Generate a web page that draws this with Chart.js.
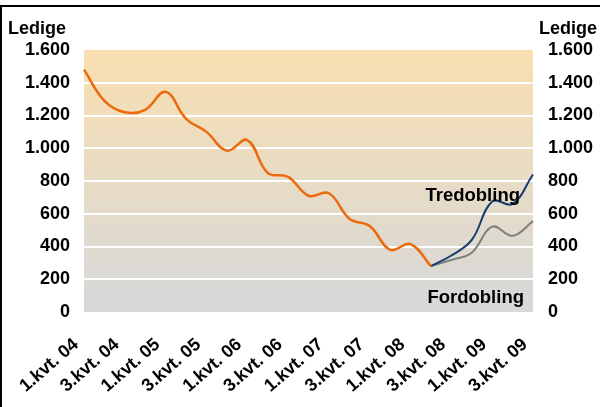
<!DOCTYPE html>
<html>
<head>
<meta charset="utf-8">
<script src="https://cdn.jsdelivr.net/npm/chart.js@4/dist/chart.umd.min.js"></script>
<style>
  html, body { margin: 0; padding: 0; background: #fff; }
  #wrap { width: 600px; height: 407px; position: relative; }
</style>
</head>
<body>
<div id="wrap"><canvas id="chart"></canvas></div>
<script>
// Quarters from 1.kvt. 04 to 3.kvt. 09
const quarters = [
  "1.kvt. 04", "2.kvt. 04", "3.kvt. 04", "4.kvt. 04",
  "1.kvt. 05", "2.kvt. 05", "3.kvt. 05", "4.kvt. 05",
  "1.kvt. 06", "2.kvt. 06", "3.kvt. 06", "4.kvt. 06",
  "1.kvt. 07", "2.kvt. 07", "3.kvt. 07", "4.kvt. 07",
  "1.kvt. 08", "2.kvt. 08", "3.kvt. 08", "4.kvt. 08",
  "1.kvt. 09", "2.kvt. 09", "3.kvt. 09"
];

// actual number of unemployed (ends 2.kvt. 08)
const ledige = [1480, 1290, 1220, 1235, 1345, 1180, 1100, 985, 1050, 850, 825, 710,
  725, 570, 525, 380, 415, 280, null, null, null, null, null];
// scenario: tripling
const tredobling = [null, null, null, null, null, null, null, null, null, null, null, null,
  null, null, null, null, null, 280, 345, 440, 675, 660, 840];
// scenario: doubling
const fordobling = [null, null, null, null, null, null, null, null, null, null, null, null,
  null, null, null, null, null, 280, 318, 362, 521, 465, 555];

const yTicks = [0, 200, 400, 600, 800, 1000, 1200, 1400, 1600];
const axisTitle = "Ledige";
const scenarioLabels = ["Tredobling", "Fordobling"];

const FONT = '"Liberation Sans", Arial, sans-serif';
Chart.defaults.font.family = FONT;
Chart.defaults.font.size = 18;
Chart.defaults.font.weight = "bold";
Chart.defaults.color = "#000";

function fmt(v) {
  return String(v).replace(/\B(?=(\d{3})+(?!\d))/g, ".");
}

// background gradient, frame and extra texts
const decor = {
  id: "decor",
  beforeDraw(chart) {
    const { ctx, chartArea: a } = chart;
    ctx.save();
    const g = ctx.createLinearGradient(0, a.top, 0, a.bottom);
    g.addColorStop(0, "#f9dfb0");
    g.addColorStop(1, "#d6d8da");
    ctx.fillStyle = g;
    ctx.fillRect(a.left, a.top, a.right - a.left, a.bottom - a.top);
    // frame
    ctx.fillStyle = "#000";
    ctx.fillRect(0, 5, chart.width, 2);
    ctx.fillRect(0, 5, 2, chart.height);
    ctx.restore();
  },
  afterDatasetsDraw(chart) {
    const { ctx } = chart;
    const x = chart.scales.x;
    const y = chart.scales.y;
    ctx.save();
    ctx.font = "bold 18.5px " + FONT;
    ctx.fillStyle = "#000";
    ctx.textBaseline = "middle";
    ctx.textAlign = "right";
    ctx.fillText(scenarioLabels[0], x.getPixelForValue(22) - 13, y.getPixelForValue(708));
    ctx.fillText(scenarioLabels[1], x.getPixelForValue(22) - 9, y.getPixelForValue(85));
    ctx.font = "bold 18px " + FONT;
    ctx.textBaseline = "alphabetic";
    ctx.textAlign = "left";
    ctx.fillText(axisTitle, 8, 33.5);
    ctx.fillText(axisTitle, 539, 33.5);
    ctx.restore();
  }
};

const yCommon = {
  min: 0,
  max: 1600,
  afterBuildTicks(s) { s.ticks = yTicks.map(v => ({ value: v })); },
  border: { display: false },
  ticks: { callback: v => fmt(v) }
};

new Chart(document.getElementById("chart"), {
  type: "line",
  data: {
    labels: quarters,
    datasets: [
      { label: "Ledige", data: ledige, borderColor: "#ec6a0e", borderWidth: 2.5 },
      { label: "Tredobling", data: tredobling, borderColor: "#173c72", borderWidth: 2 },
      { label: "Fordobling", data: fordobling, borderColor: "#7f7f80", borderWidth: 2 }
    ]
  },
  options: {
    responsive: true,
    maintainAspectRatio: false,
    animation: false,
    spanGaps: false,
    elements: { point: { radius: 0 }, line: { tension: 0.4, fill: false } },
    layout: { padding: { top: 50, left: 0, right: 0, bottom: 0 } },
    plugins: { legend: { display: false }, tooltip: { enabled: false } },
    scales: {
      x: {
        offset: false,
        grid: { display: false },
        border: { display: false },
        afterFit(s) { s.height = 95; },
        ticks: {
          autoSkip: false,
          minRotation: 41,
          maxRotation: 41,
          padding: 14,
          labelOffset: -8,
          callback: (v, i) => (i % 2 === 0 ? quarters[i] : "")
        }
      },
      y: Object.assign({}, yCommon, {
        position: "left",
        afterFit(s) { s.width = 84; },
        grid: {
          drawTicks: false,
          lineWidth: 2,
          color: c => (c.tick.value === 0 || c.tick.value === 1600 ? "rgba(0,0,0,0)" : "#ffffff")
        },
        ticks: { callback: v => fmt(v), padding: 14 }
      }),
      y2: Object.assign({}, yCommon, {
        position: "right",
        afterFit(s) { s.width = 67; },
        grid: { display: false, drawTicks: false },
        ticks: { callback: v => fmt(v), padding: 15 }
      })
    }
  },
  plugins: [decor]
});
</script>
</body>
</html>
